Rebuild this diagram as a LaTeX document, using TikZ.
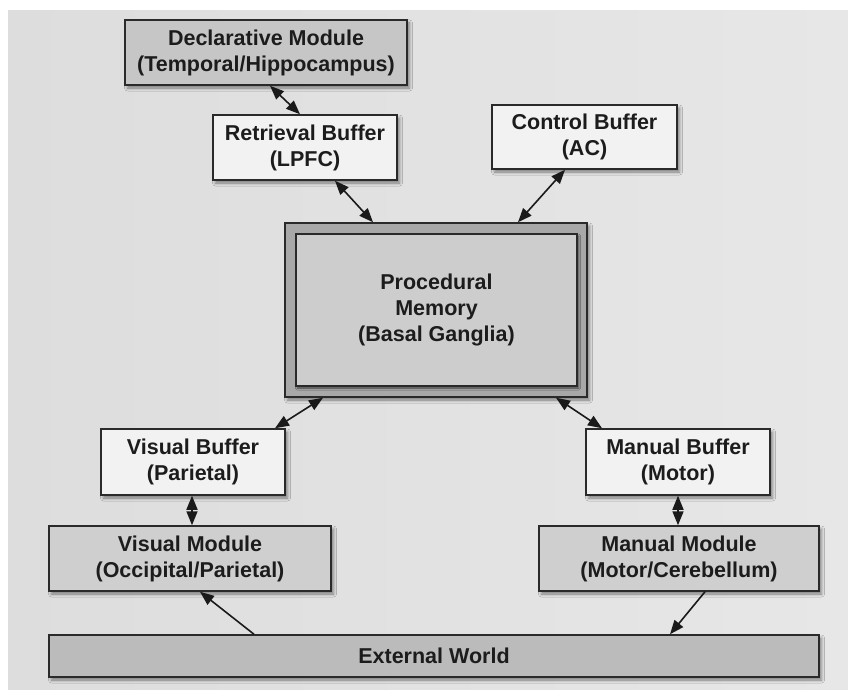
\documentclass[tikz,border=0pt]{standalone}
\usepackage{fontspec}
\setmainfont{Liberation Sans}
\usetikzlibrary{arrows.meta,shadows.blur,calc}
\definecolor{bgl}{HTML}{DDDDDD}
\definecolor{bgr}{HTML}{E7E7E7}
\definecolor{boxline}{HTML}{2A2A2A}
\definecolor{txt}{HTML}{1C1C1C}
\definecolor{arr}{HTML}{1A1A1A}
\definecolor{buffill}{HTML}{F2F2F2}
\definecolor{modfill}{HTML}{CFCFCF}
\definecolor{declfill}{HTML}{C6C6C6}
\definecolor{outerfill}{HTML}{A8A8A8}
\definecolor{innerfill}{HTML}{CDCDCD}
\definecolor{extfill}{HTML}{BBBBBB}
\begin{document}
\begin{tikzpicture}[x=1pt,y=-1pt,
  box/.style={draw=boxline, line width=1.5pt, align=center, text=txt,
    font=\fontsize{21.5}{26}\selectfont\bfseries, inner sep=0pt,
    blur shadow={shadow xshift=2.5pt, shadow yshift=-3pt, shadow blur radius=3pt, shadow opacity=45}},
  buf/.style={box, fill=buffill},
  mod/.style={box, fill=modfill},
  link/.style={line width=1.6pt, draw=arr, {Triangle[length=14pt,width=11pt]}-{Triangle[length=14pt,width=11pt]}},
  one/.style={line width=1.6pt, draw=arr, -{Triangle[length=14pt,width=11pt]}},
]
\useasboundingbox (0,0) rectangle (848,690);
\fill[white] (0,0) rectangle (848,690);
\shade[left color=bgl, right color=bgr] (8,11) rectangle (848,690);

\node[box, fill=declfill, minimum width=282pt, minimum height=65pt] (decl) at (266,52.5) {Declarative Module\\(Temporal/Hippocampus)};
\node[buf, minimum width=184pt, minimum height=65pt] (retr) at (305,147.5) {Retrieval Buffer\\(LPFC)};
\node[buf, minimum width=185pt, minimum height=64pt] (ctrl) at (584.5,137) {Control Buffer\\(AC)};
\node[box, fill=outerfill, minimum width=302pt, minimum height=174pt] (proc) at (436,310) {};
\node[box, fill=innerfill, minimum width=281pt, minimum height=152pt,
  blur shadow={shadow xshift=1.5pt, shadow yshift=-2pt, shadow blur radius=2pt, shadow opacity=35}] (procin) at (436.5,310) {Procedural\\Memory\\(Basal Ganglia)};
\node[buf, minimum width=184pt, minimum height=66pt] (visbuf) at (193,462) {Visual Buffer\\(Parietal)};
\node[buf, minimum width=184pt, minimum height=66pt] (manbuf) at (678,462) {Manual Buffer\\(Motor)};
\node[mod, minimum width=282pt, minimum height=65pt] (vismod) at (190,558.5) {Visual Module\\(Occipital/Parietal)};
\node[mod, minimum width=280pt, minimum height=65pt] (manmod) at (679,558.5) {Manual Module\\(Motor/Cerebellum)};
\node[box, fill=extfill, minimum width=770pt, minimum height=42pt] (ext) at (434,656) {External World};

\draw[link] ($(decl.south)+(4,0)$) -- ($(retr.north)+(-5,0)$);
\draw[link] ($(retr.south)+(30,0)$) -- ($(proc.north)+(-63,0)$);
\draw[link] ($(ctrl.south)+(-19.5,0)$) -- ($(proc.north)+(82,0)$);
\draw[link] ($(proc.south)+(-113,0)$) -- ($(visbuf.north)+(82,0)$);
\draw[link] ($(proc.south)+(120,0)$) -- ($(manbuf.north)+(-76,0)$);
\draw[link] ($(visbuf.south)+(-1,0)$) -- ($(vismod.north)+(2,0)$);
\draw[link] (manbuf.south) -- ($(manmod.north)+(-1,0)$);
\draw[one] ($(ext.north)+(-180,0)$) -- ($(vismod.south)+(10,0)$);
\draw[one] ($(manmod.south)+(26,0)$) -- ($(ext.north)+(236,0)$);
\end{tikzpicture}
\end{document}
